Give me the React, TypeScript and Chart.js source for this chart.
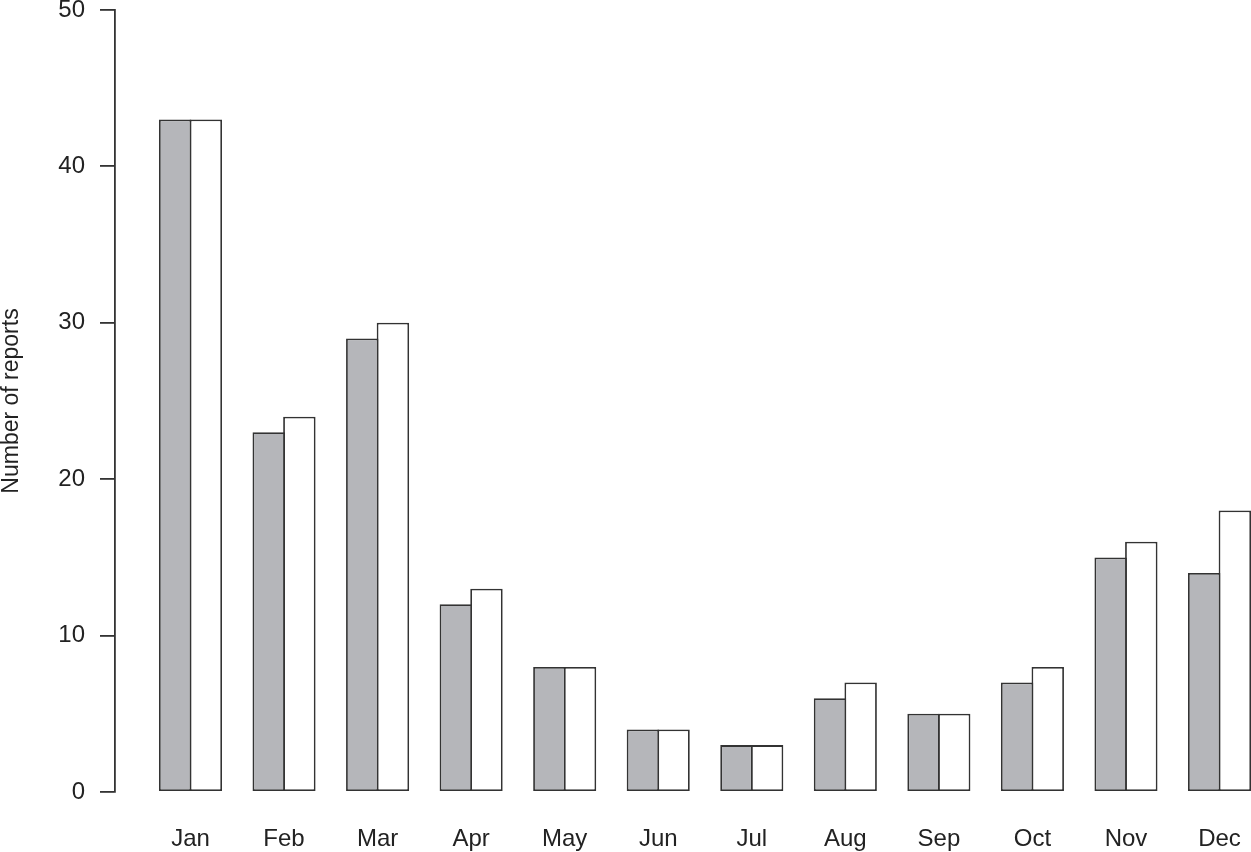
import React, { useEffect, useRef } from "react";
import { Chart, registerables } from "chart.js";

Chart.register(...registerables);

const months = ["Jan", "Feb", "Mar", "Apr", "May", "Jun", "Jul", "Aug", "Sep", "Oct", "Nov", "Dec"];
const greySeries = [43, 23, 29, 12, 8, 4, 3, 6, 5, 7, 15, 14];
const whiteSeries = [43, 24, 30, 13, 8, 4, 3, 7, 5, 8, 16, 18];
const yTicks = [0, 10, 20, 30, 40, 50];
const yTitle = "Number of reports";

const FONT = "'Liberation Sans', Arial, Helvetica, sans-serif";
const INK = "#222222";
const EDGE = "#333333";

export default function App() {
  const ref = useRef<HTMLCanvasElement | null>(null);

  useEffect(() => {
    if (!ref.current) return;
    const toPoints = (arr: number[]) => arr.map((v, i) => ({ x: i, y: v }));
    const barStyle = {
      borderColor: EDGE,
      borderWidth: 1.8,
      borderSkipped: false,
      categoryPercentage: 0.655,
      barPercentage: 1.059,
    };
    const chart = new Chart(ref.current, {
      type: "bar",
      data: {
        datasets: [
          { label: "A", data: toPoints(greySeries), backgroundColor: "#b5b6ba", ...barStyle },
          { label: "B", data: toPoints(whiteSeries), backgroundColor: "#ffffff", ...barStyle },
        ] as any,
      },
      options: {
        responsive: false,
        animation: false,
        layout: { padding: { top: 10, left: 0, right: 0, bottom: 0 } },
        plugins: { legend: { display: false }, tooltip: { enabled: false } },
        scales: {
          x: {
            type: "linear",
            offset: false,
            bounds: "data",
            min: -0.807,
            max: 12.074,
            border: { display: false },
            grid: { display: false, drawTicks: false, offset: false },
            afterBuildTicks: (scale: any) => {
              scale.ticks = months.map((_, i) => ({ value: i }));
            },
            ticks: {
              autoSkip: false,
              maxRotation: 0,
              padding: 33,
              color: INK,
              font: { family: FONT, size: 24 },
              callback: (v: any) => months[Number(v)] ?? "",
            },
            afterFit: (scale: any) => {
              scale.height = 60;
              scale.paddingLeft = 0;
              scale.paddingRight = 0;
            },
          },
          y: {
            min: 0,
            max: 50,
            afterBuildTicks: (scale: any) => {
              scale.ticks = yTicks.map((v) => ({ value: v }));
            },
            border: { display: true, color: EDGE, width: 1.8 },
            grid: { drawOnChartArea: false, drawTicks: true, tickLength: 15, color: EDGE, lineWidth: 1.8 },
            ticks: {
              padding: 15,
              color: INK,
              font: { family: FONT, size: 24 },
            },
            title: {
              display: true,
              text: yTitle,
              color: INK,
              padding: { top: 0, bottom: 0 },
              font: { family: FONT, size: 23, lineHeight: 1 },
            },
            afterFit: (scale: any) => {
              scale.width = 115;
              scale.paddingTop = 0;
              scale.paddingBottom = 0;
            },
          },
        },
      } as any,
    });
    return () => chart.destroy();
  }, []);

  return (
    <div style={{ position: "absolute", left: 0, top: 0, width: 1251, height: 852, overflow: "hidden", background: "#fff" }}>
      <canvas ref={ref} width={1320} height={852} style={{ display: "block" }} />
    </div>
  );
}
